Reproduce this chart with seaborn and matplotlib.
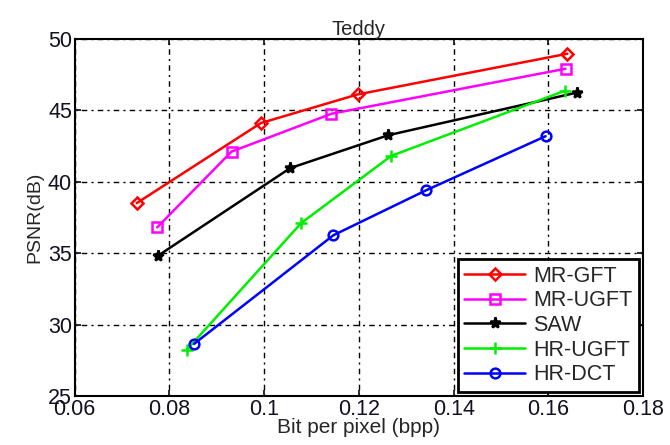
import numpy as np
import pandas as pd
import matplotlib
matplotlib.use("Agg")
import matplotlib.pyplot as plt
import seaborn as sns

# data
mr_gft_x = [0.0731, 0.0993, 0.1197, 0.1640]
mr_gft_y = [38.5, 44.1, 46.1, 48.95]
mr_ugft_x = [0.0774, 0.0931, 0.1142, 0.1636]
mr_ugft_y = [36.8, 42.1, 44.75, 47.9]
saw_x = [0.0775, 0.1055, 0.1262, 0.1660]
saw_y = [34.8, 40.95, 43.25, 46.23]
hr_ugft_x = [0.0837, 0.1078, 0.1268, 0.1634]
hr_ugft_y = [28.25, 37.1, 41.8, 46.35]
hr_dct_x = [0.0852, 0.1146, 0.1342, 0.1594]
hr_dct_y = [28.65, 36.25, 39.4, 43.18]

names = ["MR-GFT", "MR-UGFT", "SAW", "HR-UGFT", "HR-DCT"]
xs = [mr_gft_x, mr_ugft_x, saw_x, hr_ugft_x, hr_dct_x]
ys = [mr_gft_y, mr_ugft_y, saw_y, hr_ugft_y, hr_dct_y]

colors = ["#ff0000", "#ff00ff", "#000000", "#00ee00", "#0000ff"]
markers = ["D", "s", "*", "+", "o"]
sizes = [6, 7, 8, 8, 7]
filled = [False, False, True, True, False]

sns.set_theme(style="white")
plt.rcParams["font.family"] = ["Liberation Sans", "DejaVu Sans"]

fig = plt.figure(figsize=(6.7, 4.45), dpi=100)
ax = fig.add_axes([0.1115, 0.110, 0.8485, 0.803])

for name, x, y, c, m, s, f in zip(names, xs, ys, colors, markers, sizes, filled):
    df = pd.DataFrame({"bpp": x, "psnr": y})
    sns.lineplot(data=df, x="bpp", y="psnr", ax=ax, sort=False, color=c,
                 linewidth=1.8, marker=m, markersize=s,
                 markerfacecolor=(c if f else "none"), markeredgecolor=c,
                 markeredgewidth=1.8, label=name)

ax.set_xlim(0.06, 0.18)
ax.set_ylim(25, 50)
ax.set_xticks([0.06, 0.08, 0.1, 0.12, 0.14, 0.16, 0.18])
ax.set_xticklabels(["0.06", "0.08", "0.1", "0.12", "0.14", "0.16", "0.18"])
ax.set_yticks([25, 30, 35, 40, 45, 50])
ax.grid(True, color="black", linestyle=(0, (1.5, 3, 4, 3)), linewidth=1.0)
ax.tick_params(axis="both", labelsize=15.5, colors="#111122", direction="in",
               length=4, pad=2, left=True, bottom=True, right=True, top=True)
for sp in ax.spines.values():
    sp.set_color("black")
    sp.set_linewidth(1.5)

ax.set_xlabel("Bit per pixel (bpp)", fontsize=15, labelpad=-1)
ax.set_ylabel("PSNR(dB)", fontsize=14, labelpad=3)
ax.set_title("Teddy", fontsize=14.5, pad=3)

leg = ax.legend(loc="lower right", fontsize=15.5, frameon=True, fancybox=False,
                handlelength=2.8, handletextpad=0.4, labelspacing=0.17,
                borderpad=0.3, borderaxespad=0.2)
leg.get_frame().set_edgecolor("black")
leg.get_frame().set_linewidth(2)
leg.get_frame().set_alpha(1)

fig.savefig("out.png", dpi=100)
